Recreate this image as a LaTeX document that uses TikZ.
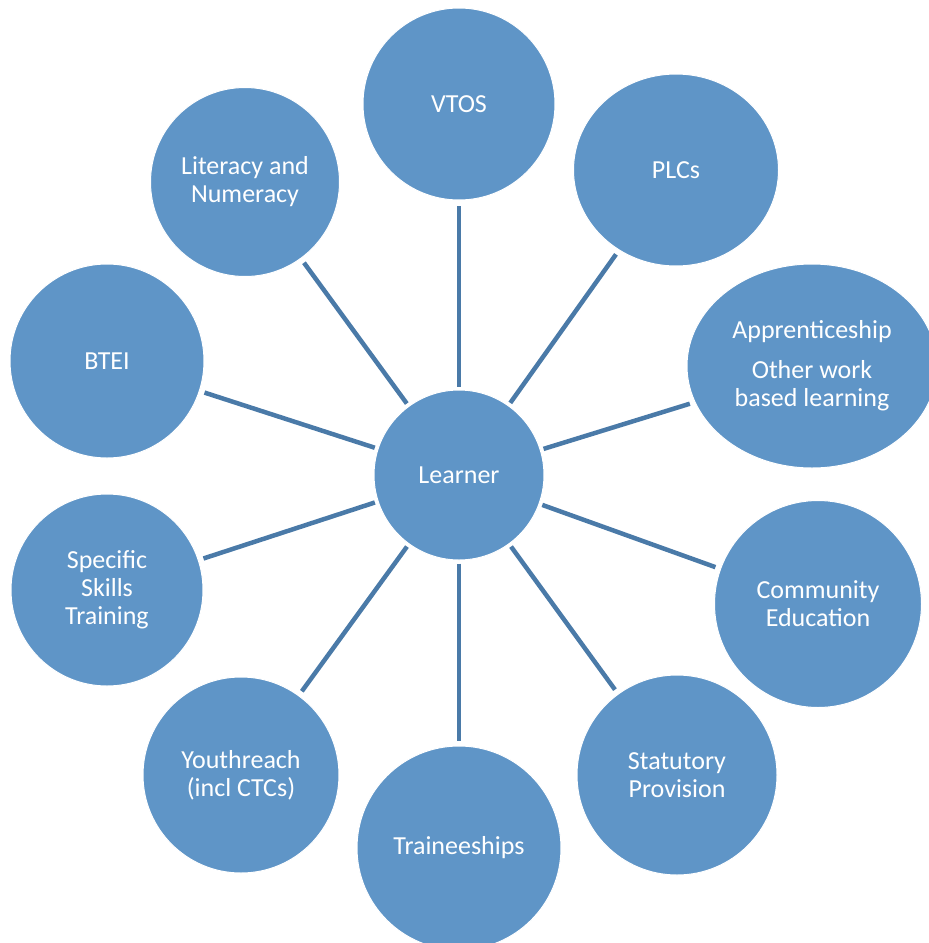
\documentclass[tikz,border=0pt]{standalone}
\usepackage{fontspec}
\setmainfont{Carlito}
\usepackage{tikz}
\usetikzlibrary{shapes.geometric}
\definecolor{bubble}{RGB}{95,149,199}
\definecolor{spokeblue}{RGB}{74,122,168}

\begin{document}
\begin{tikzpicture}[x=1pt,y=-1pt]
            \tikzstyle{topic}=[circle,draw=white,line width=1pt,fill=bubble,text=white,align=center,inner sep=0pt,font=\fontsize{26}{28}\selectfont]
            \tikzstyle{spoke}=[draw=spokeblue,line width=4.5pt,shorten <=3pt,shorten >=5pt]
            \useasboundingbox (0,0) rectangle (929,943);

            \node[topic,minimum size=170pt] (learner) at (459,475) {Learner};
            \foreach \name/\x/\y/\d/\txt in {vtos/459/104/192/{VTOS}, comm/818/604/207/{Community\\Education},
                    stat/677/775/200/{Statutory\\Provision}, train/459/848/204/{Traineeships},
                    youth/241/775/196/{Youthreach\\(incl CTCs)}, skills/107/590/192/{Specific\\Skills\\Training},
                    btei/107/361/194/{BTEI}, lit/245/182/189/{Literacy and\\Numeracy}}
                \node[topic,minimum size=\d pt] (\name) at (\x,\y) {\txt};
            \node[topic,ellipse,minimum width=205pt,minimum height=192pt] (plcs) at (676,170) {PLCs};
            \node[topic,ellipse,minimum width=250pt,minimum height=204pt] (appr) at (812,366)
                {Apprenticeship\\[12pt]Other work\\based learning};

            \foreach \to in {vtos,plcs,appr,comm,stat,train,youth,skills,btei,lit}
                \draw[spoke] (learner) -- (\to);

        \end{tikzpicture}
\end{document}
